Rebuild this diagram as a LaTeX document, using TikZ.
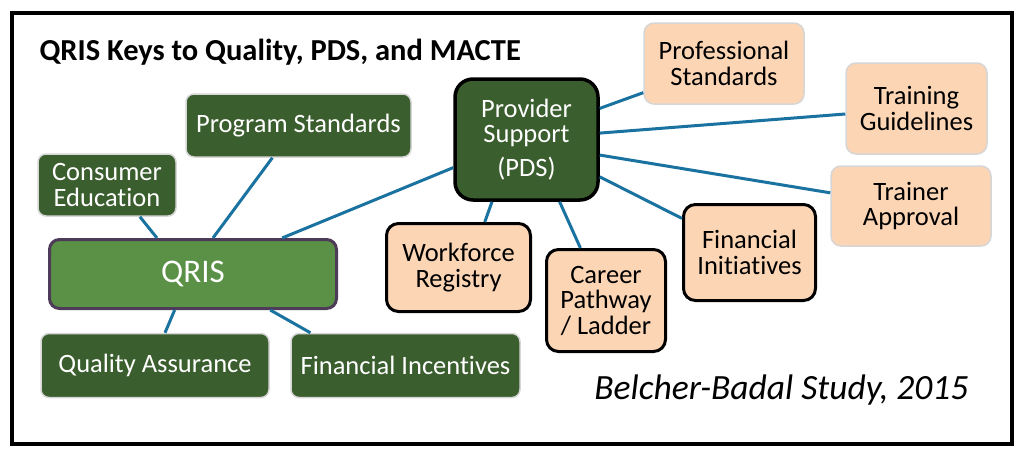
\documentclass[tikz,border=0pt]{standalone}
\usepackage{fontspec}
\setmainfont{Carlito}[Ligatures=NoCommon]
\usepackage{tikz}
\usetikzlibrary{shapes,arrows}

\definecolor{dkgreen}{HTML}{3B5E2F}
\definecolor{qgreen}{HTML}{5A9146}
\definecolor{qedge}{HTML}{4E3B5A}
\definecolor{peach}{HTML}{FCD5B5}
\definecolor{linkblue}{HTML}{1A72A0}
\definecolor{softedge}{HTML}{D6D6D6}

\begin{document}
\begin{tikzpicture}[x=1pt,y=-1pt,
	box/.style={rectangle, align=center, inner sep=0pt, font=\fontsize{26.5}{25.5}\selectfont},
	greenbox/.style={box, fill=dkgreen, draw=softedge, line width=1.5pt, text=white, rounded corners=8pt},
	softpeach/.style={box, fill=peach, draw=softedge, line width=1.5pt, rounded corners=10pt},
	boldpeach/.style={box, fill=peach, draw=black, line width=3pt, rounded corners=12pt},
	hub/.style={box, fill=dkgreen, draw=black, line width=3.5pt, text=white, rounded corners=18pt},
	root/.style={box, fill=qgreen, draw=qedge, line width=3pt, text=white, rounded corners=10pt, font=\fontsize{33}{33}\selectfont},
	link/.style={draw=linkblue, line width=3pt}]
	\useasboundingbox (0,0) rectangle (1024,458);
	\draw [line width=4pt] (12,13) rectangle (1012,444);
	\node [anchor=base west, font=\fontsize{30.5}{30.5}\selectfont\bfseries] (title) at (36,60) {QRIS Keys to Quality, PDS, and MACTE};
	\node [greenbox, minimum width=225pt, minimum height=63pt] (ps) at (298.5,125.5) {Program Standards};
	\node [greenbox, minimum width=138pt, minimum height=62pt] (ce) at (107,185) {Consumer\\Education};
	\node [hub, minimum width=143pt, minimum height=121pt] (pds) at (526.5,139.5) {Provider\\Support\\[8pt](PDS)};
	\node [root, minimum width=287pt, minimum height=69pt] (qris) at (193,274) {QRIS};
	\node [greenbox, minimum width=228pt, minimum height=64pt] (qa) at (155,365.5) {Quality Assurance};
	\node [greenbox, minimum width=229pt, minimum height=64pt] (fi) at (405.5,365.5) {Financial Incentives};
	\node [boldpeach, minimum width=144pt, minimum height=88pt] (wr) at (458.5,267.5) {Workforce\\Registry};
	\node [boldpeach, minimum width=119pt, minimum height=102pt] (cp) at (606,300.5) {Career\\Pathway\\/ Ladder};
	\node [boldpeach, minimum width=132pt, minimum height=96pt] (fn) at (749.5,252.5) {Financial\\Initiatives};
	\node [softpeach, minimum width=160pt, minimum height=81pt] (prs) at (724,63.5) {Professional\\Standards};
	\node [softpeach, minimum width=141pt, minimum height=91pt] (tg) at (916.5,108.5) {Training\\Guidelines};
	\node [softpeach, minimum width=160pt, minimum height=80pt] (ta) at (911,206) {Trainer\\Approval};
	\node [anchor=base east, font=\fontsize{35.5}{35.5}\selectfont\itshape] (cite) at (972,399) {Belcher-Badal Study, 2015};
	\path [link] (qris.135) edge (ce.-44);
	\path [link] (qris.61) edge (ps.-129);
	\path [link] (qris.22) edge (pds.-159);
	\path [link] (qris.-117) edge (qa.73);
	\path [link] (qris.-25) edge (fi.161);
	\path [link] (pds.23) edge (prs);
	\path [link] (pds.5) edge (tg);
	\path [link] (pds.-12) edge (ta);
	\path [link] (pds.-27) edge (fn);
	\path [link] (pds.-62) edge (cp.116);
	\path [link] (pds.-119) edge (wr.60);
\end{tikzpicture}
\end{document}
